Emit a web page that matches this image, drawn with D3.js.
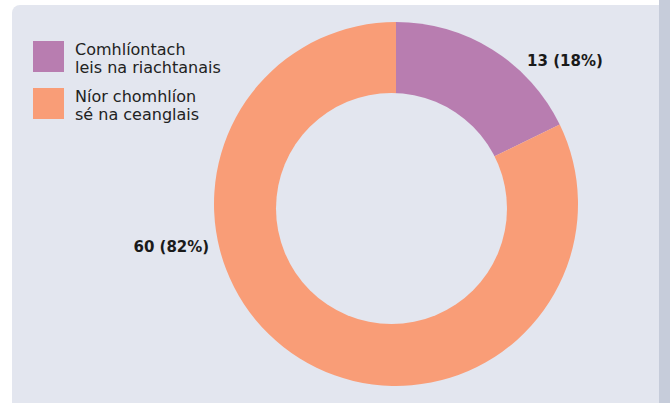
<!DOCTYPE html>
<html>
<head>
<meta charset="utf-8">
<script src="https://cdn.jsdelivr.net/npm/d3@7"></script>
<style>
  body { margin: 0; background: #fff; }
  svg { display: block; }
</style>
</head>
<body>
<div id="myVis"></div>
<script>
var width = 670, height = 403;

// data
const categories = ["Comhlíontach leis na riachtanais", "Níor chomhlíon sé na ceanglais"];
const legendLines = [["Comhlíontach", "leis na riachtanais"], ["Níor chomhlíon", "sé na ceanglais"]];
const counts = [13, 60];
const colors = ["#b87db0", "#f99d77"];

const svg = d3.select("#myVis")
    .append("svg")
        .attr("width", width)
        .attr("height", height);

// background panel + right strip
svg.append("rect")
    .attr("x", 12).attr("y", 5)
    .attr("width", 660).attr("height", 420)
    .attr("rx", 8)
    .attr("fill", "#e3e6ef");
svg.append("rect")
    .attr("x", 659).attr("y", 0)
    .attr("width", 11).attr("height", height)
    .attr("fill", "#c6ccda");

var total = d3.sum(counts);
var data = categories.map((c, i) => ({cat: c, n: counts[i]}));

var pie = d3.pie().value(d => d.n).sort(null);
var outerR = 182;
var arc = d3.arc().innerRadius(0).outerRadius(outerR);

var color = d3.scaleOrdinal().domain(categories).range(colors);

var g = svg.append("g")
    .attr("transform", "translate(396,204)");

var arcs = pie(data);

g.selectAll("path")
    .data(arcs)
    .enter()
    .append("path")
        .attr("d", arc)
        .attr("fill", d => color(d.data.cat));

// donut hole (sits a little off-centre in the original)
g.append("circle")
    .attr("cx", -4.5)
    .attr("cy", 4.5)
    .attr("r", 115.5)
    .attr("fill", "#e3e6ef");

// slice labels: angle (deg, clockwise from top) and distance from centre
var labelPlace = [{a: 42.5, r: 194}, {a: 257.3, r: 191.5}];
g.selectAll("text.lbl")
    .data(arcs)
    .enter()
    .append("text")
        .attr("class", "lbl")
        .attr("x", (d, i) => labelPlace[i].r * Math.sin(labelPlace[i].a * Math.PI / 180))
        .attr("y", (d, i) => -labelPlace[i].r * Math.cos(labelPlace[i].a * Math.PI / 180))
        .attr("dy", "0.36em")
        .attr("text-anchor", (d, i) => labelPlace[i].a < 180 ? "start" : "end")
        .style("font-family", "DejaVu Sans")
        .style("font-weight", "bold")
        .style("font-size", "15px")
        .attr("fill", "#1a1a1a")
        .text(d => d.data.n + " (" + Math.round(d.data.n / total * 100) + "%)");

// legend
var legend = svg.append("g")
    .selectAll("g")
    .data(categories)
    .enter()
    .append("g")
        .attr("transform", (d, i) => "translate(33," + (41 + i * 47) + ")");

legend.append("rect")
    .attr("width", 31)
    .attr("height", 31)
    .attr("fill", d => color(d));

legend.append("text")
    .style("font-family", "DejaVu Sans")
    .style("font-size", "16px")
    .attr("fill", "#222")
    .selectAll("tspan")
    .data((d, i) => legendLines[i])
    .enter()
    .append("tspan")
        .attr("x", 42)
        .attr("y", (d, j) => 13.5 + j * 18)
        .text(d => d);
</script>
</body>
</html>
